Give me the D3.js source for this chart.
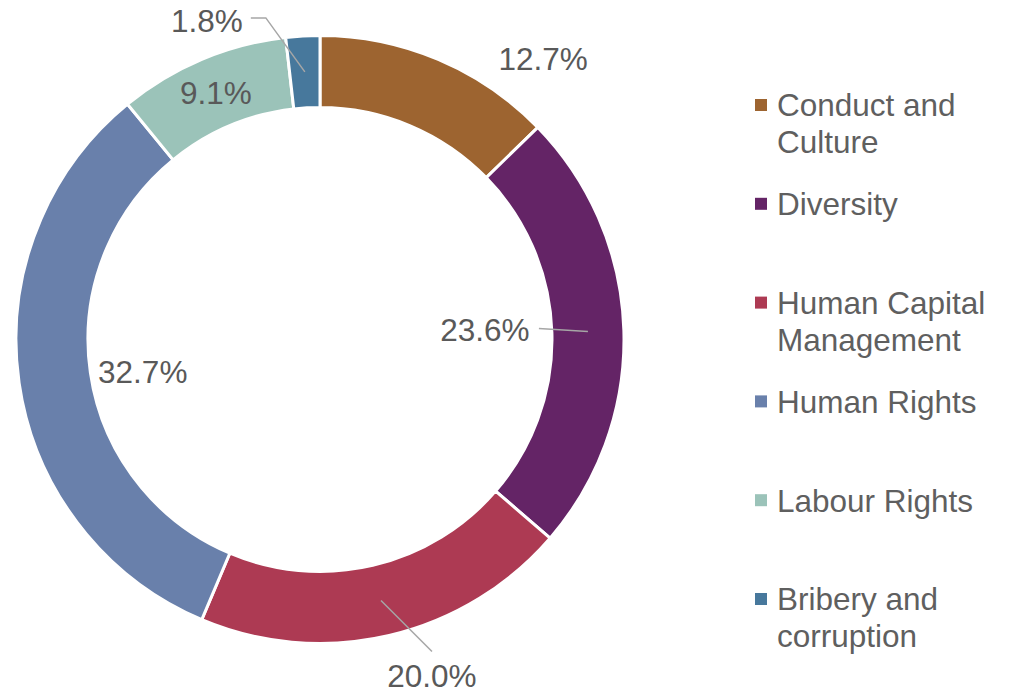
<!DOCTYPE html>
<html>
<head>
<meta charset="utf-8">
<script src="https://cdn.jsdelivr.net/npm/d3@7"></script>
<style>
  body { margin: 0; background: #fff; }
  svg { display: block; font-family: "Liberation Sans", Arial, sans-serif; }
</style>
</head>
<body>
<svg id="donut" width="1010" height="689"></svg>
<script>
// chart data
const categories = ['Conduct and Culture', 'Diversity', 'Human Capital Management', 'Human Rights', 'Labour Rights', 'Bribery and corruption']
const legendLines = [['Conduct and', 'Culture'], ['Diversity'], ['Human Capital', 'Management'], ['Human Rights'], ['Labour Rights'], ['Bribery and', 'corruption']]
const values = [12.7, 23.6, 20.0, 32.7, 9.1, 1.8]
const colors = ['#9d6430', '#642466', '#ad3a53', '#6980ab', '#9bc3b9', '#47789c']

// label placement: offset of the label centre from the slice centroid
const labelOffset = [[119, -34], [-103, -2], [51, 76], [88, -6], [0, 0], [-98, -51]]
// leader line points after the centroid, relative to the label centre
const leaders = [null, [[54, -1]], [[0, -25]], null, null, [[59, -3], [44, -3]]]

const svg = d3.select('#donut')
const cx = 320, cy = 339.5
const outerR = 304, innerR = 232
const g = svg.append('g').attr('transform', 'translate(' + cx + ',' + cy + ')')

const pie = d3.pie().sort(null).value(d => d)
const arcs = pie(values)
const arc = d3.arc().innerRadius(innerR).outerRadius(outerR)
const midArc = d3.arc().innerRadius((innerR + outerR) / 2).outerRadius((innerR + outerR) / 2)

g.selectAll('path.slice')
  .data(arcs)
  .join('path')
  .attr('class', 'slice')
  .attr('d', arc)
  .attr('fill', (d, i) => colors[i])
  .attr('stroke', '#fff')
  .attr('stroke-width', 3)
  .attr('stroke-linejoin', 'miter')

// label positions
const labelPos = arcs.map((d, i) => {
  const c = midArc.centroid(d)
  return [c[0] + labelOffset[i][0], c[1] + labelOffset[i][1]]
})

// leader lines
const line = d3.line()
arcs.forEach((d, i) => {
  if (!leaders[i]) return
  const pts = [midArc.centroid(d)].concat(leaders[i].map(p => [labelPos[i][0] + p[0], labelPos[i][1] + p[1]]))
  g.append('path')
    .attr('d', line(pts))
    .attr('fill', 'none')
    .attr('stroke', '#a6a6a6')
    .attr('stroke-width', 1.5)
})

g.selectAll('text.pct')
  .data(arcs)
  .join('text')
  .attr('class', 'pct')
  .attr('x', (d, i) => labelPos[i][0])
  .attr('y', (d, i) => labelPos[i][1])
  .attr('dy', '0.35em')
  .attr('text-anchor', 'middle')
  .attr('font-size', 31.5)
  .attr('fill', '#595959')
  .text(d => d.data.toFixed(1) + '%')

// legend
const legendY = d3.scalePoint().domain(categories).range([105, 599])
const legend = svg.append('g').selectAll('g')
  .data(categories)
  .join('g')
  .attr('transform', d => 'translate(755,' + legendY(d) + ')')

legend.append('rect')
  .attr('x', 0)
  .attr('y', -6)
  .attr('width', 12)
  .attr('height', 12)
  .attr('fill', (d, i) => colors[i])

legend.append('text')
  .attr('x', 22)
  .attr('y', 0)
  .attr('font-size', 31.5)
  .attr('fill', '#5f5f5f')
  .selectAll('tspan')
  .data((d, i) => legendLines[i])
  .join('tspan')
  .attr('x', 22)
  .attr('dy', (d, j) => j === 0 ? '0.36em' : 37)
  .text(d => d)
</script>
</body>
</html>
